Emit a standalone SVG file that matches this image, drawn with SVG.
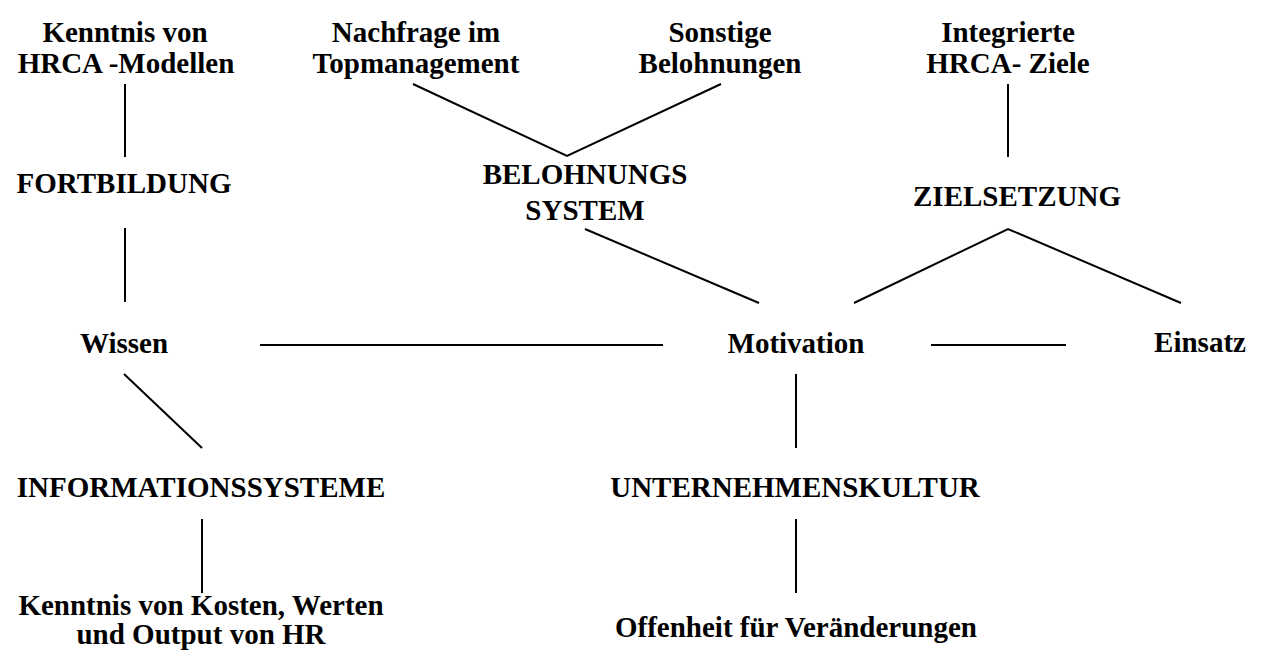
<svg xmlns="http://www.w3.org/2000/svg" width="1261" height="657" viewBox="0 0 1261 657">
  <style>
    .lbl { font-family: "Liberation Serif", "Times New Roman", serif; font-weight: bold; font-size: 29px; fill: #000; text-anchor: middle; }
    .edge { stroke: #000; stroke-width: 2; fill: none; }
  </style>
  <rect x="0" y="0" width="1261" height="657" fill="#fff"/>

  <!-- connectors -->
  <g id="connectors" class="edge">
    <line x1="125" y1="84" x2="125" y2="157"/>
    <line x1="125" y1="228" x2="125" y2="302"/>
    <line x1="124" y1="374" x2="202" y2="448"/>
    <line x1="202" y1="519" x2="202" y2="593"/>
    <line x1="260" y1="345" x2="663" y2="345"/>
    <line x1="931" y1="345" x2="1066" y2="345"/>
    <line x1="796" y1="374" x2="796" y2="448"/>
    <line x1="796" y1="519" x2="796" y2="593"/>
    <polyline points="413,84 567,156 721,84"/>
    <line x1="585" y1="229" x2="759" y2="303"/>
    <line x1="1008" y1="84" x2="1008" y2="157"/>
    <polyline points="854,303 1008,229 1181,303"/>
  </g>

  <!-- nodes -->
  <g id="kenntnis-hrca">
    <text class="lbl" x="125" y="42">Kenntnis von</text>
    <text class="lbl" x="126" y="73">HRCA -Modellen</text>
  </g>
  <g id="fortbildung">
    <text class="lbl" x="124" y="193">FORTBILDUNG</text>
  </g>
  <g id="wissen">
    <text class="lbl" x="124" y="353">Wissen</text>
  </g>
  <g id="informationssysteme">
    <text class="lbl" x="201" y="497">INFORMATIONSSYSTEME</text>
  </g>
  <g id="kenntnis-kosten">
    <text class="lbl" x="201" y="615">Kenntnis von Kosten, Werten</text>
    <text class="lbl" x="201" y="644">und Output von HR</text>
  </g>
  <g id="nachfrage">
    <text class="lbl" x="416" y="42">Nachfrage im</text>
    <text class="lbl" x="416" y="73">Topmanagement</text>
  </g>
  <g id="sonstige">
    <text class="lbl" x="720" y="42">Sonstige</text>
    <text class="lbl" x="720" y="73">Belohnungen</text>
  </g>
  <g id="belohnungssystem">
    <text class="lbl" x="585" y="184">BELOHNUNGS</text>
    <text class="lbl" x="585" y="220">SYSTEM</text>
  </g>
  <g id="motivation">
    <text class="lbl" x="796" y="353">Motivation</text>
  </g>
  <g id="unternehmenskultur">
    <text class="lbl" x="795" y="497">UNTERNEHMENSKULTUR</text>
  </g>
  <g id="offenheit">
    <text class="lbl" x="796" y="637">Offenheit für Veränderungen</text>
  </g>
  <g id="integrierte-ziele">
    <text class="lbl" x="1008" y="42">Integrierte</text>
    <text class="lbl" x="1008" y="73">HRCA- Ziele</text>
  </g>
  <g id="zielsetzung">
    <text class="lbl" x="1017" y="206">ZIELSETZUNG</text>
  </g>
  <g id="einsatz">
    <text class="lbl" x="1200" y="352">Einsatz</text>
  </g>
</svg>
